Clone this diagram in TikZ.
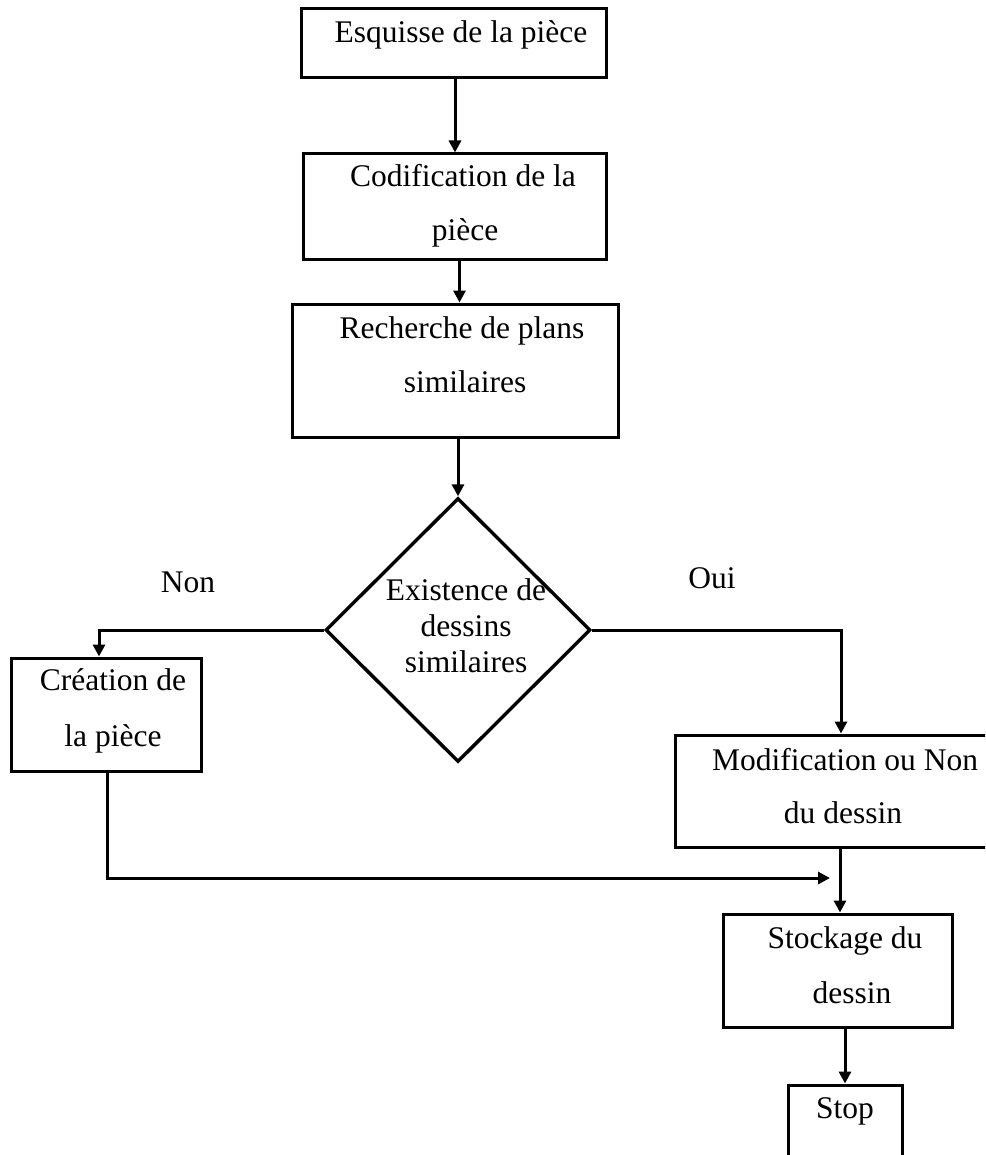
\documentclass[tikz,border=0pt]{standalone}
\usepackage{fontspec}
\setmainfont{Liberation Serif}
\usetikzlibrary{arrows.meta,fit,shapes.geometric}
\begin{document}
\begin{tikzpicture}[x=0.5pt,y=-0.5pt,
  box/.style={draw, line width=1.5pt, inner sep=0pt},
  decision/.style={draw, diamond, line width=1.7pt, inner sep=0pt,
    minimum width=132.5pt, minimum height=132pt},
  txt/.style={font=\fontsize{15.75}{18}\selectfont, inner sep=0pt, anchor=base},
  flow/.style={line width=1.5pt, -{Triangle[length=6pt,width=6pt]}}]
\clip (0,0) rectangle (985,1155);

% process boxes
\node[box, fit={(301,9) (606,78)}]      (b1) {};
\node[box, fit={(303,154) (606,259)}]   (b2) {};
\node[box, fit={(292,304) (618,437)}]   (b3) {};
\node[decision] (dec) at (458,630) {};
\node[box, fit={(11,658) (201,771)}]    (b5) {};
\node[box, fit={(675,735) (1005,847)}]  (b6) {};
\node[box, fit={(723,914) (952,1027)}]  (b7) {};
\node[box, fit={(788,1085) (902,1170)}] (b8) {};

% box texts
\node[txt] (t1)  at (461,43)   {Esquisse de la pièce};
\node[txt] (t2a) at (463,187)  {Codification de la};
\node[txt] (t2b) at (465,241)  {pièce};
\node[txt] (t3a) at (462,338)  {Recherche de plans};
\node[txt] (t3b) at (465,392)  {similaires};
\node[txt] (t4a) at (466,600)  {Existence de};
\node[txt] (t4b) at (466,636)  {dessins};
\node[txt] (t4c) at (466,672)  {similaires};
\node[txt] (t5a) at (113,690)  {Création de};
\node[txt] (t5b) at (113,746)  {la pièce};
\node[txt] (t6a) at (845,770)  {Modification ou Non};
\node[txt] (t6b) at (843,823)  {du dessin};
\node[txt] (t7a) at (845,948)  {Stockage du};
\node[txt] (t7b) at (852,1003) {dessin};
\node[txt] (t8)  at (845,1118) {Stop};

% branch labels
\node[txt] (non) at (188,592) {Non};
\node[txt] (oui) at (712,588) {Oui};

% connectors
\coordinate (merge) at (830,878);
\draw[flow] ([xshift=0.75pt]b1.south) -- ([xshift=0.75pt]b1.south |- b2.north);
\draw[flow] ([xshift=2.5pt]b2.south) -- ([xshift=2.5pt]b2.south |- b3.north);
\draw[flow] (dec.north |- b3.south) -- (dec.north);
\draw[flow] (dec.west) -| ([xshift=-3.5pt]b5.north);
\draw[flow] (dec.east) -| ([xshift=0.5pt]b6.north);
\draw[flow] ([xshift=0.5pt]b5.south) |- (merge);
\draw[flow] (b6.south) -- (b6.south |- b7.north);
\draw[flow] (b8.north |- b7.south) -- (b8.north);
\end{tikzpicture}
\end{document}
